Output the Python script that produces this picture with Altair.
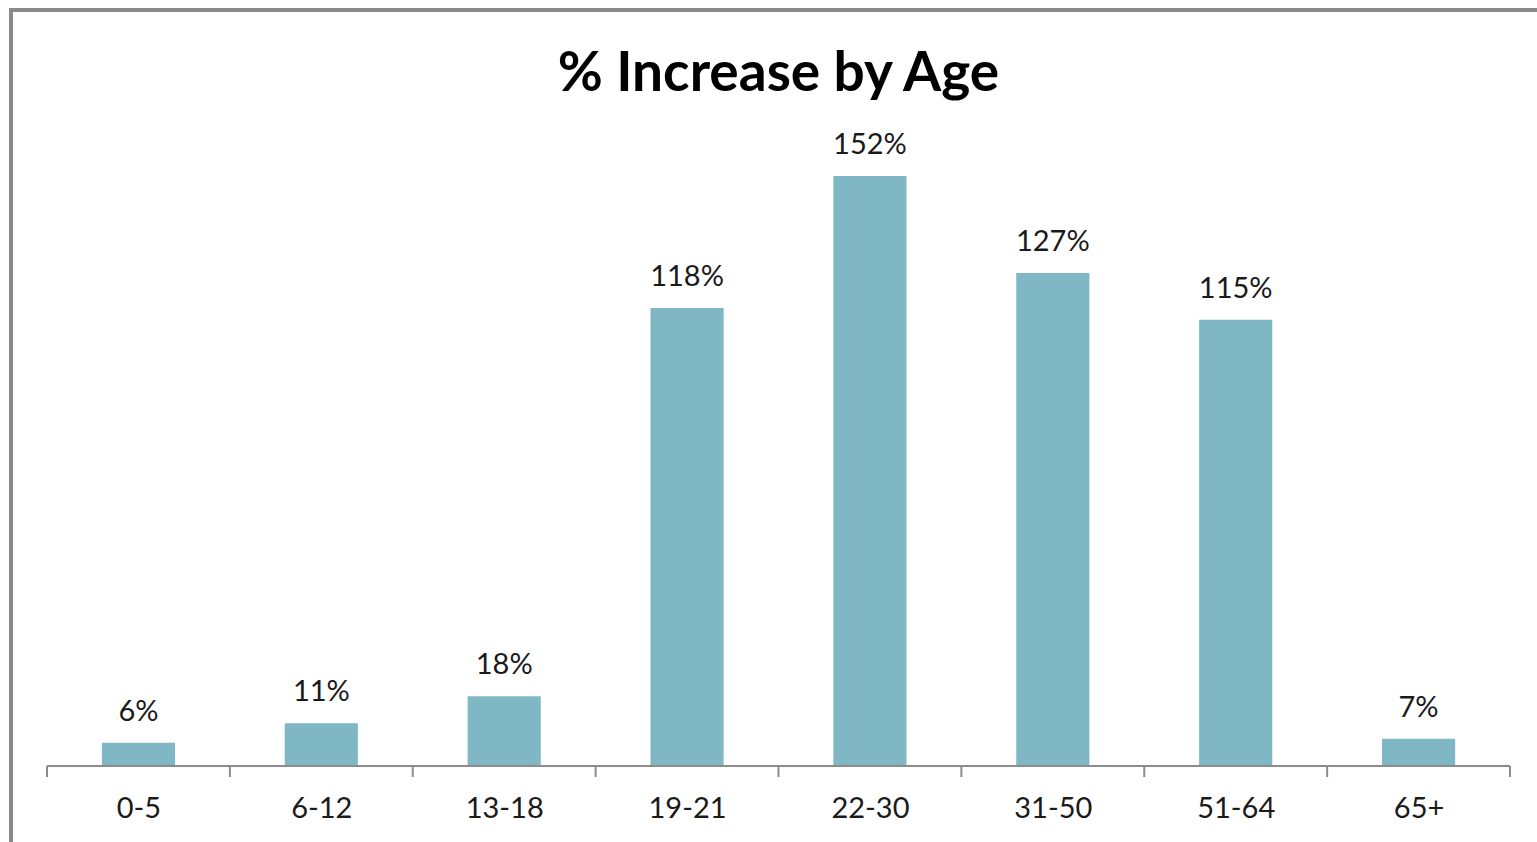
import json
import altair as alt
import pandas as pd

# Percentage increase per age group
ages = ["0-5", "6-12", "13-18", "19-21", "22-30", "31-50", "51-64", "65+"]
increase = [6, 11, 18, 118, 152, 127, 115, 7]
labels = ["6%", "11%", "18%", "118%", "152%", "127%", "115%", "7%"]

# Category boundaries for the axis tick marks (0 .. number of groups)
boundaries = list(range(len(ages) + 1))

W, H = 1463, 621
PAD_L, PAD_T, PAD_R, PAD_B = 47, 145, 27, 76

df = pd.DataFrame({"i": range(len(ages)), "age": ages, "pct": increase, "label": labels})
ticks_df = pd.DataFrame({"b": boundaries})

FONT = "Lato"
BAR = "#7fb8c4"
AXIS = "#8c8c8c"

# Each age group occupies one unit on x; bars take the middle 40 %
xscale = alt.Scale(domain=[0, len(ages)], nice=False, zero=False)
x_axis = alt.Axis(
    title=None, values=[i + 0.5 for i in range(len(ages))],
    labelExpr=f"{json.dumps(ages)}[floor(datum.value)]",
    ticks=False, domain=False, grid=False, labelAngle=0,
    labelFont=FONT, labelFontSize=29, labelColor="#1a1a1a", labelPadding=28,
)
yscale = alt.Scale(domain=[0, 160], nice=False)
y = alt.Y("pct:Q", scale=yscale, axis=None)

base = alt.Chart(df).transform_calculate(
    x0="datum.i + 0.3", x1="datum.i + 0.7", xc="datum.i + 0.5"
)

bars = base.mark_bar(color=BAR).encode(
    x=alt.X("x0:Q", scale=xscale, axis=x_axis),
    x2="x1:Q",
    y=y,
    y2=alt.datum(0),
)

values = base.mark_text(
    font=FONT, fontSize=29, color="#1a1a1a", baseline="bottom", dy=-16
).encode(x=alt.X("xc:Q", scale=xscale), y=y, text="label:N")

baseline = alt.Chart(df).mark_rule(color=AXIS, strokeWidth=2).encode(
    y=alt.datum(0)
)

tick_marks = alt.Chart(ticks_df).mark_rule(color=AXIS, strokeWidth=2).encode(
    x=alt.X("b:Q", scale=xscale),
    y=alt.value(H),
    y2=alt.value(H + 11),
)

# Grey border around the whole chart
frame = alt.Chart(df).mark_rect(
    fillOpacity=0, stroke="#8a8a8a", strokeWidth=3
).encode(
    x=alt.value(11 - PAD_L),
    x2=alt.value(W + PAD_R + 40),
    y=alt.value(10 - PAD_T),
    y2=alt.value(H + PAD_B + 40),
)

chart = (
    alt.layer(bars, values, baseline, tick_marks, frame)
    .properties(
        width=W,
        height=H,
        autosize=alt.AutoSizeParams(type="none"),
        padding={"left": PAD_L, "top": PAD_T, "right": PAD_R, "bottom": PAD_B},
        title=alt.TitleParams(
            "% Increase by Age",
            font=FONT, fontSize=55, fontWeight="bold", color="#000000",
            anchor="middle", offset=-94,
        ),
        background="white",
    )
    .configure_view(stroke=None)
)

chart.save("out.html", embed_options={"renderer": "svg", "actions": False})
